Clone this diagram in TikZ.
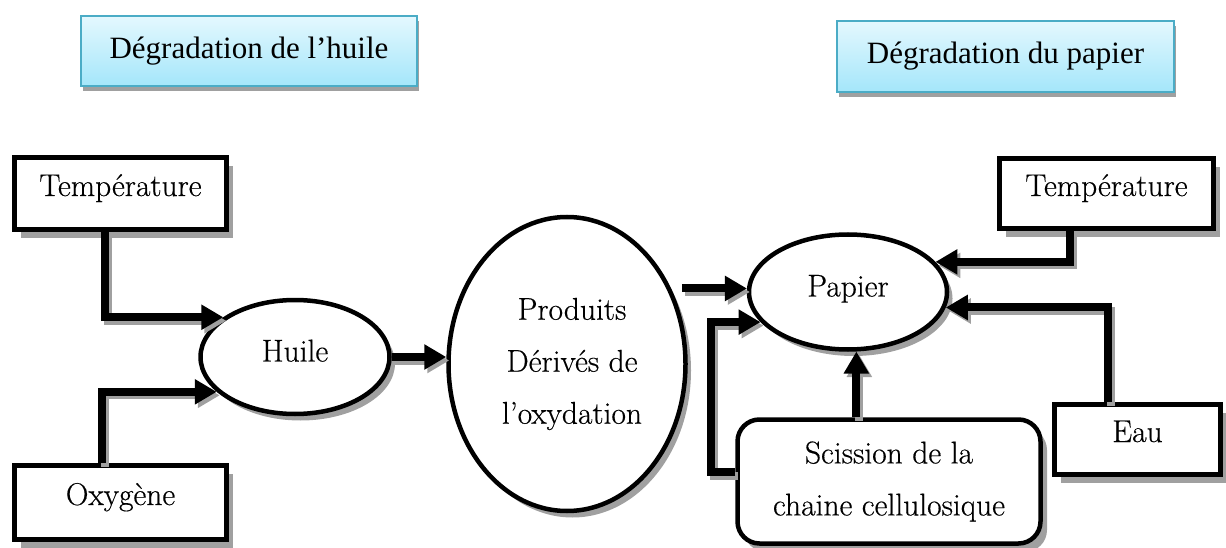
\documentclass[tikz,border=0pt]{standalone}
\usepackage{fontspec}
\newfontfamily\titlefont{Liberation Serif}
\newfontfamily\labelfamily[FakeBold=0.4]{Latin Modern Roman}
\usetikzlibrary{arrows.meta,shapes.geometric,shadows}

\definecolor{titletop}{HTML}{E4F8FE}
\definecolor{titlebot}{HTML}{A4E6FA}
\definecolor{titleline}{HTML}{4BACC6}
\definecolor{shadowgray}{HTML}{A0A0A0}

\newcommand\labelfont{\labelfamily\fontsize{31.5}{52}\selectfont}
% each connector is drawn twice: a grey shadow, then the black line
\newcommand\connector[1]{\draw[connshadow] #1; \draw[conn] #1;}

\tikzset{
  titlebox/.style={rectangle, draw=titleline, line width=1.8pt,
    top color=titletop, bottom color=titlebot,
    font=\titlefont\fontsize{31}{36}\selectfont,
    drop shadow={shadow xshift=2pt, shadow yshift=-5.5pt, fill=shadowgray, opacity=1}},
  flatbox/.style={rectangle, draw, fill=white, line width=4.5pt,
    text height=21pt, text depth=16pt, font=\labelfont,
    drop shadow={shadow xshift=6.5pt, shadow yshift=-8.5pt, fill=shadowgray, opacity=1}},
  roundbox/.style={rectangle, rounded corners=22pt, draw, fill=white, line width=4.5pt,
    align=center, font=\labelfont,
    drop shadow={shadow xshift=6.5pt, shadow yshift=-8.5pt, fill=shadowgray, opacity=1}},
  oval/.style={ellipse, draw, fill=white, line width=4.5pt, inner sep=2pt,
    font=\labelfont,
    drop shadow={shadow xshift=5.5pt, shadow yshift=-6.5pt, fill=shadowgray, opacity=1}},
  tip/.style={-{Triangle[length=22pt,width=24pt]}},
  conn/.style={line width=8pt, tip},
  connshadow/.style={line width=8pt, tip, draw=shadowgray,
    transform canvas={shift={(3pt,-3.5pt)}}}
}

\begin{document}
\begin{tikzpicture}[x=1pt,y=-1pt]
\useasboundingbox (0,0) rectangle (1226,548);

% titles
\node[titlebox, minimum width=336pt, minimum height=70pt] (title1) at (249,51) {Dégradation de l’huile};
\node[titlebox, minimum width=337pt, minimum height=71pt] (title2) at (1005.5,56.5) {Dégradation du papier};

% oil side
\node[flatbox, minimum width=212pt, minimum height=72pt] (tempL) at (120.5,193.5) {Température};
\node[flatbox, minimum width=212pt, minimum height=74pt] (oxy) at (120.5,502.5) {Oxygène};
\node[oval, minimum width=189pt, minimum height=114pt, text height=21pt, text depth=12pt] (huile) at (295,357) {Huile};
\node[oval, minimum width=237pt, minimum height=294pt, align=center] (prod) at (567,364)
  {\hspace*{10pt}Produits\\\hspace*{10pt}Dérivés de\\\hspace*{10pt}l’oxydation};

% paper side
\node[oval, minimum width=198pt, minimum height=115pt, text height=21pt, text depth=12pt] (papier) at (848,292) {Papier};
\node[roundbox, minimum width=303pt, minimum height=124pt] (sciss) at (889,481.5)
  {Scission de la\\chaine cellulosique};
\node[flatbox, minimum width=166pt, minimum height=70pt] (eau) at (1137.5,439.5) {Eau};
\node[flatbox, minimum width=214pt, minimum height=70pt] (tempR) at (1106.5,193.5) {Température};

% bends of the connectors
\coordinate (c1) at (105,0);
\coordinate (c2) at (102,0);
\coordinate (c4) at (711,472);
\coordinate (c5) at (1108,0);
\coordinate (c6) at (1070,0);

% connectors
\connector{(tempL.south -| c1) |- (huile.151)}
\connector{(oxy.north -| c2) |- (huile.204)}
\connector{(huile.east) -- (huile.east -| prod.west)}
\connector{([xshift=-6pt]papier.178 -| prod.east) -- (papier.178)}
\connector{(sciss.west |- c4) -- (c4) |- (papier.199)}
\connector{(sciss.north -| papier.278) -- (papier.278)}
\connector{(eau.north -| c5) |- (papier.351)}
\connector{(tempR.south -| c6) |- (papier.19)}
\end{tikzpicture}
\end{document}
